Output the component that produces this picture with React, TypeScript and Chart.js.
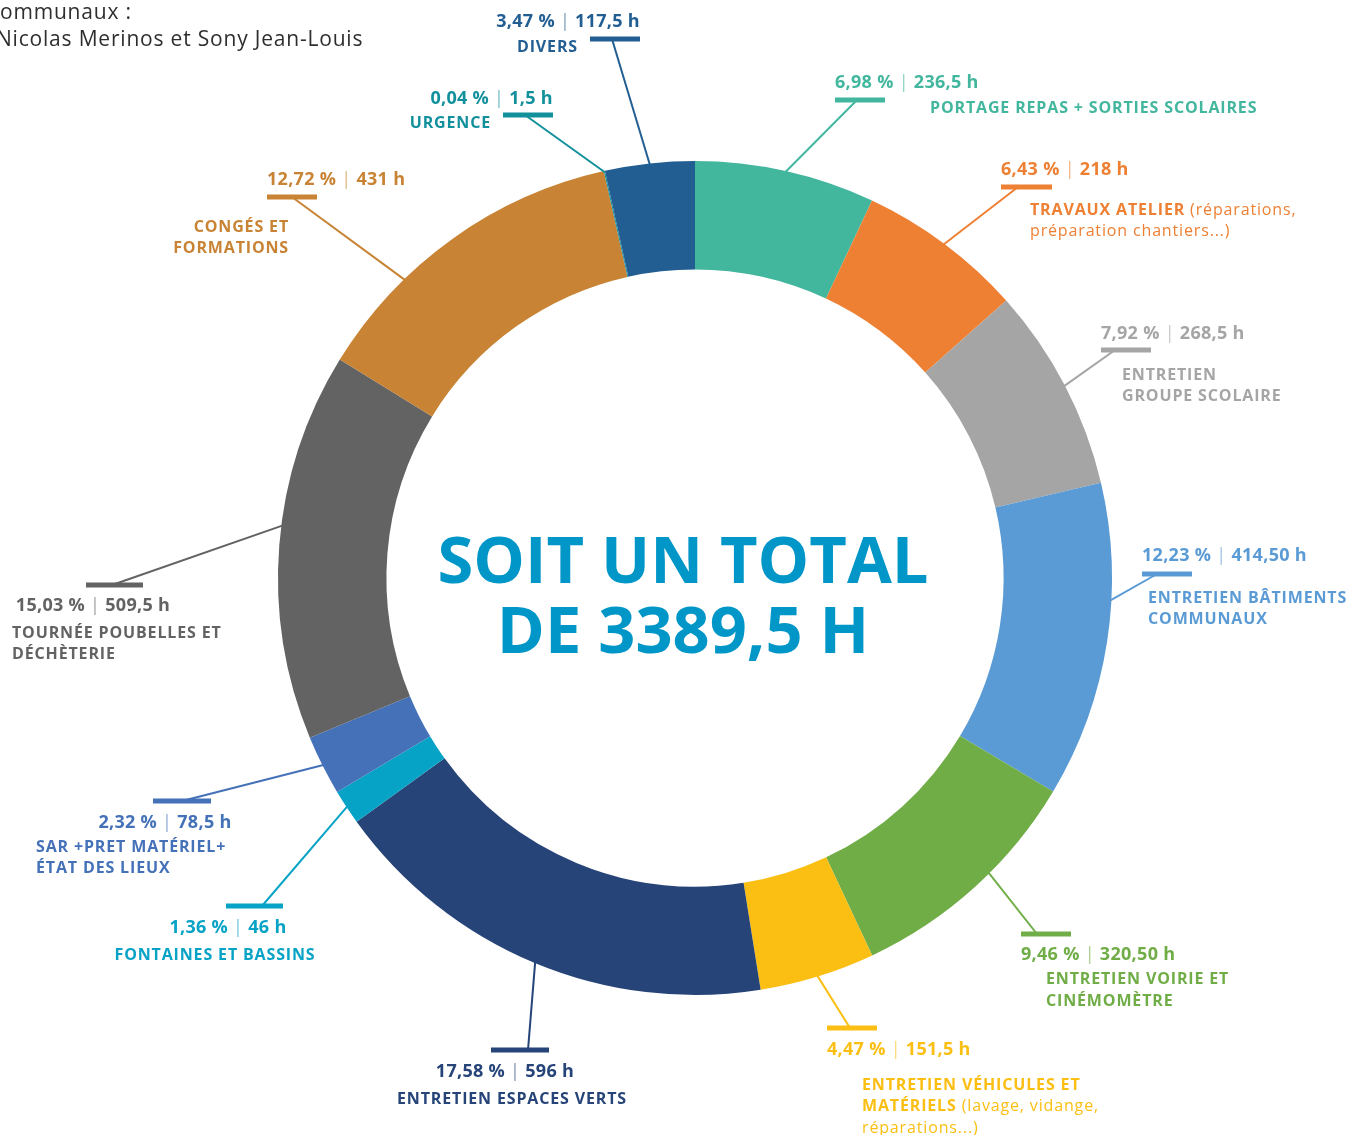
import React, { useEffect, useRef } from "react";
import { Chart, registerables } from "chart.js";

Chart.register(...registerables);

// ---------- DATA ----------
const categories = [
  "Portage repas + sorties scolaires",
  "Travaux atelier",
  "Entretien groupe scolaire",
  "Entretien bâtiments communaux",
  "Entretien voirie et cinémomètre",
  "Entretien véhicules et matériels",
  "Entretien espaces verts",
  "Fontaines et bassins",
  "SAR + prêt matériel + état des lieux",
  "Tournée poubelles et déchèterie",
  "Congés et formations",
  "Urgence",
  "Divers",
];
const hours = [236.5, 218, 268.5, 414.5, 320.5, 151.5, 596, 46, 78.5, 509.5, 431, 1.5, 117.5];
const pctLabels = ["6,98 %", "6,43 %", "7,92 %", "12,23 %", "9,46 %", "4,47 %", "17,58 %", "1,36 %", "2,32 %", "15,03 %", "12,72 %", "0,04 %", "3,47 %"];
const hourLabels = ["236,5 h", "218 h", "268,5 h", "414,50 h", "320,50 h", "151,5 h", "596 h", "46 h", "78,5 h", "509,5 h", "431 h", "1,5 h", "117,5 h"];
// each label line: list of [text, bold]
const categoryLines: [string, boolean][][][] = [
  [[["PORTAGE REPAS + SORTIES SCOLAIRES", true]]],
  [[["TRAVAUX ATELIER", true], [" (réparations,", false]], [["préparation chantiers...)", false]]],
  [[["ENTRETIEN", true]], [["GROUPE SCOLAIRE", true]]],
  [[["ENTRETIEN BÂTIMENTS", true]], [["COMMUNAUX", true]]],
  [[["ENTRETIEN VOIRIE ET", true]], [["CINÉMOMÈTRE", true]]],
  [[["ENTRETIEN VÉHICULES ET", true]], [["MATÉRIELS", true], [" (lavage, vidange,", false]], [["réparations...)", false]]],
  [[["ENTRETIEN ESPACES VERTS", true]]],
  [[["FONTAINES ET BASSINS", true]]],
  [[["SAR +PRET MATÉRIEL+", true]], [["ÉTAT DES LIEUX", true]]],
  [[["TOURNÉE POUBELLES ET", true]], [["DÉCHÈTERIE", true]]],
  [[["CONGÉS ET", true]], [["FORMATIONS", true]]],
  [[["URGENCE", true]]],
  [[["DIVERS", true]]],
];
const centerLines = ["SOIT UN TOTAL", "DE 3389,5 H"];
const headerLines = ["ommunaux :", "Nicolas Merinos et Sony Jean-Louis"];

// ---------- STYLES / LAYOUT ----------
const colors = ["#43B69E", "#EE8034", "#A5A5A5", "#5B9BD5", "#70AD47", "#FBBF13", "#264478", "#07A3C6", "#4471B8", "#636363", "#C88334", "#12909C", "#235E92"];
const textColors = ["#43B69E", "#EE8034", "#A5A5A5", "#5B9BD5", "#70AD47", "#FBBF13", "#264478", "#07A3C6", "#4471B8", "#636363", "#C88334", "#12909C", "#235E92"];
type Align = "left" | "right" | "center";
// bar: [x1, x2, y, joinX]; val: [x, yCenter, align]; cat: [x, firstLineCenter, align, lineHeight]; frac: where along the slice the leader starts
const layout: { bar: number[]; val: [number, number, Align]; cat: [number, number, Align, number]; frac: number }[] = [
  { bar: [835, 885, 100, 857], val: [835, 82, "left"], cat: [930, 107, "left", 21], frac: 0.5 },
  { bar: [1001, 1052, 187, 1018], val: [1001, 169, "left"], cat: [1030, 209, "left", 21], frac: 0.5 },
  { bar: [1101, 1151, 350, 1115], val: [1101, 333, "left"], cat: [1122, 374, "left", 21], frac: 0.5 },
  { bar: [1142, 1192, 574, 1157], val: [1142, 555, "left"], cat: [1148, 597, "left", 21], frac: 0.37 },
  { bar: [1021, 1071, 934, 1037], val: [1021, 954, "left"], cat: [1046, 978, "left", 22], frac: 0.42 },
  { bar: [827, 877, 1028, 850], val: [827, 1049, "left"], cat: [862, 1084, "left", 21.5], frac: 0.5 },
  { bar: [491, 549, 1050, 528], val: [505, 1071, "center"], cat: [512, 1098, "center", 21], frac: 0.5 },
  { bar: [226, 283, 906, 262], val: [228, 927, "center"], cat: [215, 954, "center", 21], frac: 0.5 },
  { bar: [153, 211, 801, 182], val: [165, 822, "center"], cat: [36, 846, "left", 21], frac: 0.5 },
  { bar: [86, 143, 585, 112], val: [93, 605, "center"], cat: [12, 632, "left", 21], frac: 0.55 },
  { bar: [267, 317, 197, 292], val: [267, 179, "left"], cat: [289, 226, "right", 21], frac: 0.31 },
  { bar: [503, 553, 115, 525], val: [553, 98, "right"], cat: [491, 122, "right", 21], frac: 0.5 },
  { bar: [590, 640, 39, 612], val: [640, 21, "right"], cat: [578, 46, "right", 21], frac: 0.5 },
];
const FONT = "'Open Sans', 'Noto Sans', sans-serif";
const VAL_SIZE = 18;
const VAL_SPACING = 0.3;
const CAT_SIZE = 16;
const CAT_SPACING = 0.85;

function drawRich(
  ctx: CanvasRenderingContext2D,
  segs: { t: string; w: number; a: number }[],
  size: number,
  spacing: number,
  x: number,
  yc: number,
  align: Align,
  color: string
) {
  const c: any = ctx;
  c.letterSpacing = `${spacing}px`;
  let total = 0;
  const widths = segs.map((s) => {
    ctx.font = `${s.w} ${size}px ${FONT}`;
    const w = ctx.measureText(s.t).width;
    total += w;
    return w;
  });
  let cx = align === "left" ? x : align === "right" ? x - total : x - total / 2;
  const baseY = yc + size * 0.357;
  ctx.textAlign = "left";
  ctx.textBaseline = "alphabetic";
  ctx.fillStyle = color;
  segs.forEach((s, i) => {
    ctx.font = `${s.w} ${size}px ${FONT}`;
    ctx.globalAlpha = s.a;
    ctx.fillText(s.t, cx, baseY);
    cx += widths[i];
  });
  ctx.globalAlpha = 1;
  c.letterSpacing = "0px";
}

const labelPlugin = {
  id: "calloutLabels",
  afterDraw(chart: any) {
    const ctx: CanvasRenderingContext2D = chart.ctx;
    const meta = chart.getDatasetMeta(0);
    ctx.save();
    meta.data.forEach((arc: any, i: number) => {
      const p = arc.getProps(["x", "y", "startAngle", "endAngle", "outerRadius"], true);
      const L = layout[i];
      const ang = p.startAngle + (p.endAngle - p.startAngle) * L.frac;
      const sx = p.x + Math.cos(ang) * (p.outerRadius - 1);
      const sy = p.y + Math.sin(ang) * (p.outerRadius - 1);
      const col = textColors[i];
      // leader line
      ctx.strokeStyle = col;
      ctx.lineWidth = 2;
      ctx.beginPath();
      ctx.moveTo(sx, sy);
      ctx.lineTo(L.bar[3], L.bar[2]);
      ctx.stroke();
      // bar
      ctx.fillStyle = col;
      ctx.fillRect(L.bar[0], L.bar[2] - 2.5, L.bar[1] - L.bar[0], 5);
      // value text
      drawRich(
        ctx,
        [
          { t: pctLabels[i], w: 700, a: 1 },
          { t: " | ", w: 400, a: 0.6 },
          { t: hourLabels[i], w: 700, a: 1 },
        ],
        VAL_SIZE,
        VAL_SPACING,
        L.val[0],
        L.val[1],
        L.val[2],
        col
      );
      // category text
      categoryLines[i].forEach((line, li) => {
        drawRich(
          ctx,
          line.map(([t, b]) => ({ t, w: b ? 700 : 400, a: 1 })),
          CAT_SIZE,
          CAT_SPACING,
          L.cat[0],
          L.cat[1] + li * L.cat[3],
          L.cat[2],
          col
        );
      });
    });
    // centre text
    centerLines.forEach((t, li) => {
      drawRich(ctx, [{ t, w: 700, a: 1 }], 65, 0, 683, 560 + li * 70, "center", "#0096C7");
    });
    // header text
    drawRich(ctx, [{ t: headerLines[0], w: 400, a: 1 }], 21, 0.8, 0, 12, "left", "#2E2E2E");
    drawRich(ctx, [{ t: headerLines[1], w: 400, a: 1 }], 21, 0.8, -4, 39, "left", "#2E2E2E");
    ctx.restore();
  },
};

export default function App() {
  const ref = useRef<HTMLCanvasElement>(null);
  useEffect(() => {
    document.body.style.margin = "0";
    let chart: Chart | null = null;
    let cancelled = false;
    const make = () => {
      if (cancelled || !ref.current) return;
      chart = new Chart(ref.current, {
        type: "doughnut",
        data: {
          labels: categories,
          datasets: [
            {
              data: hours,
              backgroundColor: colors,
              borderWidth: 0,
              hoverOffset: 0,
              offset: 0,
            },
          ],
        },
        options: {
          responsive: false,
          animation: false,
          cutout: "74%",
          layout: { padding: { left: 278, top: 161, right: 236, bottom: 140 } },
          plugins: { legend: { display: false }, tooltip: { enabled: false } },
          events: [],
        },
        plugins: [labelPlugin],
      });
    };
    Promise.all([
      document.fonts.load(`700 16px 'Open Sans'`),
      document.fonts.load(`400 16px 'Open Sans'`),
    ])
      .catch(() => null)
      .then(make);
    return () => {
      cancelled = true;
      if (chart) chart.destroy();
    };
  }, []);
  return (
    <div style={{ width: 1348, height: 1135, background: "#fff" }}>
      <canvas ref={ref} width={1348} height={1135} style={{ display: "block" }} />
    </div>
  );
}
